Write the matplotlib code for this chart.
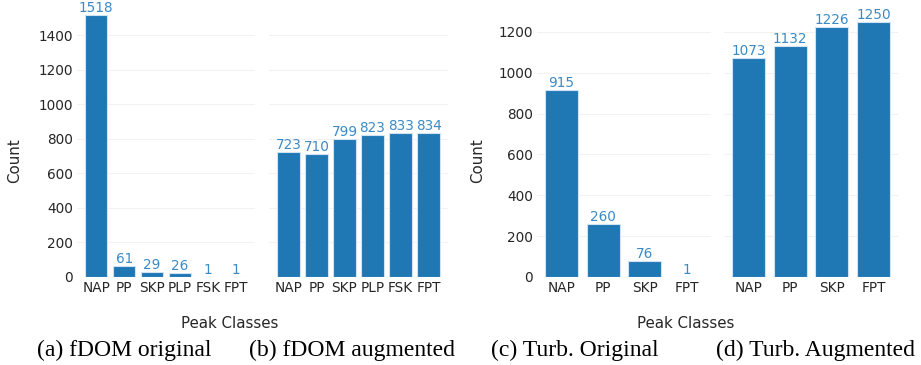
import matplotlib
matplotlib.use('Agg')
import matplotlib.pyplot as plt

# fDOM classes / counts
fdom_classes = ['NAP', 'PP', 'SKP', 'PLP', 'FSK', 'FPT']
fdom_original = [1518, 61, 29, 26, 1, 1]
fdom_augmented = [723, 710, 799, 823, 833, 834]

# turbidity classes / counts
turb_classes = ['NAP', 'PP', 'SKP', 'FPT']
turb_original = [915, 260, 76, 1]
turb_augmented = [1073, 1132, 1226, 1250]

captions = ['(a) fDOM original', '(b) fDOM augmented',
            '(c) Turb. Original', '(d) Turb. Augmented']

bar_color = '#1f77b4'
label_color = '#3a8ac6'
text_color = '#262626'

fig = plt.figure(figsize=(9.21, 3.65), dpi=100)

W, H = 921.0, 365.0
def box(l, t, r, b):
    return [l / W, 1 - b / H, (r - l) / W, (b - t) / H]

ax_a = fig.add_axes(box(77, 1.5, 255, 277))
ax_b = fig.add_axes(box(269, 1.5, 448, 277), sharey=ax_a)
ax_c = fig.add_axes(box(537, 9, 711, 277))
ax_d = fig.add_axes(box(724, 9, 898, 277), sharey=ax_c)

panels = [(ax_a, fdom_classes, fdom_original),
          (ax_b, fdom_classes, fdom_augmented),
          (ax_c, turb_classes, turb_original),
          (ax_d, turb_classes, turb_augmented)]

for ax, cats, vals in panels:
    bars = ax.bar(cats, vals, width=0.8, color=bar_color,
                  edgecolor='#cfe3f3', linewidth=0.8, zorder=2)
    ax.bar_label(bars, fontsize=9.8, color=label_color, padding=0)
    for s in ax.spines.values():
        s.set_visible(False)
    ax.yaxis.grid(True, color='#f2f2f2', linewidth=0.8, zorder=0)
    ax.xaxis.grid(False)
    ax.tick_params(axis='both', length=0, labelsize=9.8, colors=text_color, pad=3)
    ax.set_facecolor('white')

ax_a.set_ylim(0, 1518 * 1.05)
ax_c.set_ylim(0, 1250 * 1.05)
ax_b.tick_params(axis='y', labelleft=False)
ax_d.tick_params(axis='y', labelleft=False)

# shared labels for each pair
fig.text(15 / W, 1 - 161 / H, 'Count', rotation=90, ha='center', va='center',
         fontsize=10.8, color=text_color)
fig.text(478 / W, 1 - 161 / H, 'Count', rotation=90, ha='center', va='center',
         fontsize=10.8, color=text_color)
fig.text(230 / W, 1 - 323 / H, 'Peak Classes', ha='center', va='center',
         fontsize=10.8, color=text_color)
fig.text(686 / W, 1 - 323 / H, 'Peak Classes', ha='center', va='center',
         fontsize=10.8, color=text_color)

cap_x = [124, 352, 575, 815]
for x, c in zip(cap_x, captions):
    fig.text(x / W, 1 - 350 / H, c, ha='center', va='center', fontsize=17,
             family='Liberation Serif', color='black')

fig.savefig('out.png', dpi=100, facecolor='white')
